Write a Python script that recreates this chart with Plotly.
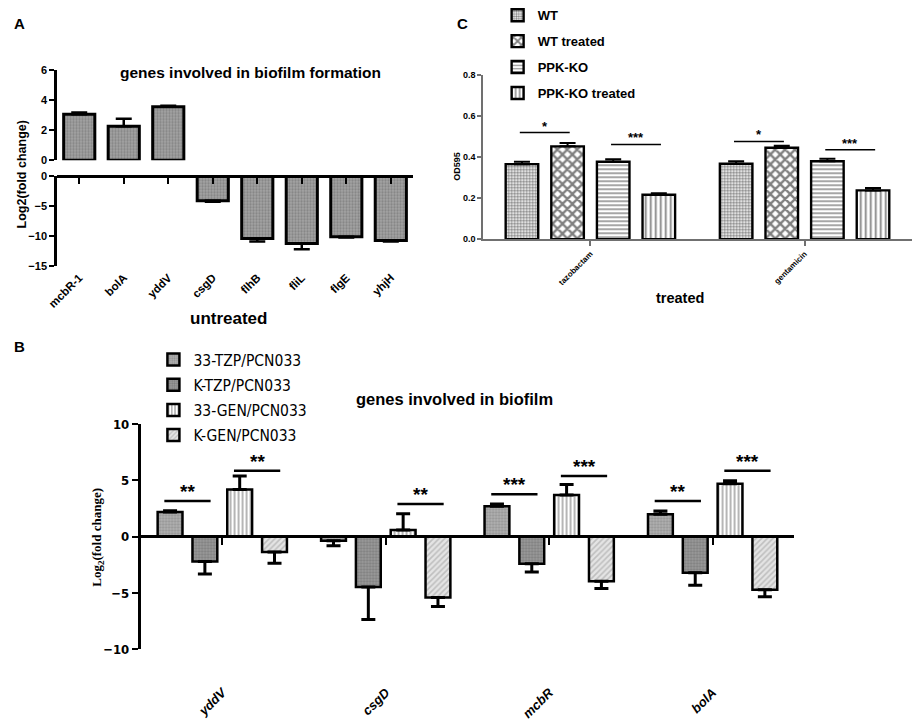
import plotly.graph_objects as go

W, H = 918, 721

FONT = "Liberation Sans, Arial, sans-serif"
NARROW = "Liberation Sans Narrow, DejaVu Sans Condensed, Arial Narrow, sans-serif"
SERIF = "Liberation Serif, Times New Roman, serif"


def px_x(p):
    return p / W


def px_y(p):
    return 1 - p / H


# ---------------- panel A: untreated, broken axis
genes_a = ["mcbR-1", "bolA", "yddV", "csgD", "flhB", "fliL", "flgE", "yhjH"]
fc_a = [3.05, 2.25, 3.55, -4.15, -10.45, -11.3, -10.15, -10.8]
err_a = [0.12, 0.5, 0.07, 0.15, 0.5, 0.95, 0.12, 0.15]

# ---------------- panel B: treated strains
genes_b = ["yddV", "csgD", "mcbR", "bolA"]
names_b = ["33-TZP/PCN033", "K-TZP/PCN033", "33-GEN/PCN033", "K-GEN/PCN033"]
tzp33_b = [2.2, -0.35, 2.7, 2.0]
tzp33_err = [0.1, 0.45, 0.2, 0.28]
ktzp_b = [-2.2, -4.45, -2.4, -3.2]
ktzp_err = [1.1, 2.9, 0.72, 1.1]
gen33_b = [4.2, 0.6, 3.7, 4.7]
gen33_err = [1.2, 1.45, 0.95, 0.28]
kgen_b = [-1.35, -5.4, -3.95, -4.7]
kgen_err = [1.0, 0.78, 0.65, 0.62]

sig_b_gene = [0, 0, 1, 2, 2, 3, 3]
sig_b_first = [0, 2, 2, 0, 2, 0, 2]
sig_b_y = [3.17, 5.85, 2.91, 3.77, 5.39, 3.17, 5.85]
sig_b_txt = ["**", "**", "**", "***", "***", "**", "***"]

# ---------------- panel C: OD595
groups_c = ["tazobactam", "gentamicin"]
names_c = ["WT", "WT treated", "PPK-KO", "PPK-KO treated"]
wt_c = [0.366, 0.368]
wt_err = [0.012, 0.012]
wtt_c = [0.453, 0.446]
wtt_err = [0.016, 0.01]
ppk_c = [0.378, 0.38]
ppk_err = [0.012, 0.012]
ppkt_c = [0.217, 0.238]
ppkt_err = [0.007, 0.012]

sig_c_group = [0, 0, 1, 1]
sig_c_first = [0, 2, 0, 2]
sig_c_y = [0.52, 0.462, 0.477, 0.436]
sig_c_txt = ["*", "***", "*", "***"]

STEP = 0.213     # distance between bars inside a group
BW = 0.152       # bar width in group units


def one_sided(vals, errs):
    up = [e if v >= 0 else 0 for v, e in zip(vals, errs)]
    dn = [e if v < 0 else 0 for v, e in zip(vals, errs)]
    return dict(type="data", symmetric=False, array=up, arrayminus=dn,
                color="black")


fig = go.Figure()

# --- A upper (positive) and lower (negative)
pos_idx = [i for i, v in enumerate(fc_a) if v > 0]
neg_idx = [i for i, v in enumerate(fc_a) if v <= 0]
pat_a = dict(shape=".", bgcolor="#a4a4a4", fgcolor="#666666", size=3, solidity=0.45)
for idx, xa, ya in [(pos_idx, "x", "y"), (neg_idx, "x2", "y2")]:
    vals = [fc_a[i] for i in idx]
    errs = [err_a[i] for i in idx]
    e = one_sided(vals, errs)
    e.update(thickness=2.5, width=8)
    fig.add_trace(go.Bar(
        x=idx, y=vals, width=0.7, xaxis=xa, yaxis=ya, showlegend=False,
        marker=dict(color="#a4a4a4", pattern=pat_a,
                    line=dict(color="black", width=3)),
        error_y=e))

# --- B
pats_b = [
    dict(shape=".", bgcolor="#b4b4b4", fgcolor="#6e6e6e", size=3, solidity=0.45),
    dict(shape=".", bgcolor="#9c9c9c", fgcolor="#5e5e5e", size=3, solidity=0.45),
    dict(shape="|", bgcolor="white", fgcolor="#5a5a5a", size=4, solidity=0.45),
    dict(shape="/", bgcolor="#e4e4e4", fgcolor="#9a9a9a", size=4, solidity=0.4),
]
vals_b = [tzp33_b, ktzp_b, gen33_b, kgen_b]
errs_b = [tzp33_err, ktzp_err, gen33_err, kgen_err]
for k in range(4):
    e = one_sided(vals_b[k], errs_b[k])
    e.update(thickness=3, width=7)
    fig.add_trace(go.Bar(
        x=list(range(len(genes_b))), y=vals_b[k], name=names_b[k],
        width=BW, offset=(k - 1.5) * STEP - BW / 2,
        xaxis="x3", yaxis="y3", legend="legend", legendgroup=names_b[k],
        marker=dict(color=pats_b[k]["bgcolor"], pattern=pats_b[k],
                    line=dict(color="black", width=2.5)),
        error_y=e))

# --- C
pats_c = [
    dict(shape=".", bgcolor="white", fgcolor="black", size=3, solidity=0.5),
    dict(shape="x", bgcolor="white", fgcolor="black", size=7, solidity=0.55),
    dict(shape="-", bgcolor="white", fgcolor="black", size=4, solidity=0.35),
    dict(shape="|", bgcolor="white", fgcolor="black", size=5, solidity=0.35),
]
vals_c = [wt_c, wtt_c, ppk_c, ppkt_c]
errs_c = [wt_err, wtt_err, ppk_err, ppkt_err]
for k in range(4):
    e = one_sided(vals_c[k], errs_c[k])
    e.update(thickness=2, width=8)
    fig.add_trace(go.Bar(
        x=list(range(len(groups_c))), y=vals_c[k], name=names_c[k],
        width=BW, offset=(k - 1.5) * STEP - BW / 2,
        xaxis="x4", yaxis="y4", legend="legend2", legendgroup=names_c[k],
        marker=dict(color="white", pattern=pats_c[k],
                    line=dict(color="black", width=2.4)),
        error_y=e))

# significance bars
for g, f, yv, t in zip(sig_b_gene, sig_b_first, sig_b_y, sig_b_txt):
    x0 = g + (f - 1.5) * STEP - 0.035
    x1 = g + (f - 0.5) * STEP + 0.035
    fig.add_shape(type="line", xref="x3", yref="y3", x0=x0, x1=x1, y0=yv, y1=yv,
                  line=dict(color="black", width=2.5))
    fig.add_annotation(xref="x3", yref="y3", x=(x0 + x1) / 2, y=yv, text="<b>%s</b>" % t,
                       showarrow=False, yanchor="bottom", yshift=-3,
                       font=dict(family=FONT, size=19, color="black"))

for g, f, yv, t in zip(sig_c_group, sig_c_first, sig_c_y, sig_c_txt):
    x0 = g + (f - 1.5) * STEP - 0.01
    x1 = g + (f - 0.5) * STEP + 0.01
    fig.add_shape(type="line", xref="x4", yref="y4", x0=x0, x1=x1, y0=yv, y1=yv,
                  line=dict(color="black", width=1.5))
    fig.add_annotation(xref="x4", yref="y4", x=(x0 + x1) / 2, y=yv, text="<b>%s</b>" % t,
                       showarrow=False, yanchor="bottom", yshift=-3,
                       font=dict(family=FONT, size=13, color="black"))

axis_common = dict(showgrid=False, zeroline=False, showline=True, linecolor="black",
                   ticks="outside", tickcolor="black")
axis_grey = dict(axis_common, linecolor="#707070", tickcolor="#707070")

fig.update_layout(
    width=W, height=H, margin=dict(l=0, r=0, t=0, b=0),
    paper_bgcolor="white", plot_bgcolor="rgba(0,0,0,0)",
    barmode="overlay",
    font=dict(family=FONT, color="black"),
    # A upper
    xaxis=dict(domain=[px_x(47.5), px_x(407.5)], range=[-0.5, 7.5], anchor="y",
               visible=False),
    yaxis=dict(axis_common, domain=[px_y(153.3), px_y(60.3)], range=[0, 6],
               anchor="x", tickvals=[0, 2, 4, 6], linewidth=2.5, tickwidth=2,
               ticklen=5, tickfont=dict(size=11, weight="bold")),
    # A lower
    xaxis2=dict(axis_common, domain=[px_x(47.5), px_x(407.5)], range=[-0.5, 7.5],
                anchor="free", position=px_y(169.3), linewidth=2.5, tickwidth=2,
                ticklen=6, tickvals=list(range(len(genes_a))), ticktext=genes_a,
                tickangle=-45, ticklabelstandoff=83,
                tickfont=dict(size=11.5, weight="bold")),
    yaxis2=dict(axis_common, domain=[px_y(261.7), px_y(169.3)], range=[-15, 0],
                anchor="x2", tickvals=[-15, -10, -5, 0], linewidth=2.5, tickwidth=2,
                ticklen=5, tickfont=dict(size=11, weight="bold")),
    # B
    xaxis3=dict(axis_common, domain=[px_x(132), px_x(793)], range=[-0.5, 3.5],
                anchor="free", position=px_y(539.3), linewidth=2.5, tickwidth=2,
                ticklen=7, tickvals=list(range(len(genes_b))), ticktext=genes_b,
                tickangle=-45, ticklabelstandoff=135,
                tickfont=dict(size=13, weight="bold", style="italic")),
    yaxis3=dict(axis_common, domain=[px_y(655.7), px_y(424.3)], range=[-10, 10],
                anchor="x3", tickvals=[-10, -5, 0, 5, 10], linewidth=2.5, tickwidth=2,
                ticklen=6, tickfont=dict(family=NARROW, size=13, weight="bold")),
    # C
    xaxis4=dict(axis_grey, domain=[px_x(478.5), px_x(911.6)], range=[-0.5, 1.5],
                anchor="y4", linewidth=2, tickwidth=1.5, ticklen=5,
                tickvals=list(range(len(groups_c))), ticktext=groups_c,
                tickangle=-45, tickfont=dict(size=8, weight="bold")),
    yaxis4=dict(axis_grey, domain=[px_y(234.3), px_y(66)], range=[0, 0.8],
                anchor="x4", dtick=0.2, tickformat=".1f", linewidth=2, tickwidth=1.5,
                ticklen=4, tickfont=dict(size=9, weight="bold")),
    legend=dict(x=px_x(145), y=px_y(341), xanchor="left", yanchor="top",
                bgcolor="rgba(0,0,0,0)", tracegroupgap=2,
                font=dict(family=NARROW, size=15.5, color="black")),
    legend2=dict(x=px_x(493), y=px_y(-11), xanchor="left", yanchor="top",
                 bgcolor="rgba(0,0,0,0)", tracegroupgap=6,
                 font=dict(family=FONT, size=13, weight="bold", color="black")),
)

texts = [
    ("<b>A</b>", 10, 13, 15, FONT, 0),
    ("<b>B</b>", 10, 345, 15, FONT, 0),
    ("<b>C</b>", 457, 13, 15, FONT, 0),
    ("<b>genes involved in biofilm formation</b>", 243, 63, 15.5, FONT, 0),
    ("<b>untreated</b>", 221, 316, 17, FONT, 0),
    ("<b>Log2(fold change)</b>", 12, 168, 12.5, FONT, -90),
    ("<b>genes involved in biofilm</b>", 449, 398, 16.5, FONT, 0),
    ("<b>Log<sub>2</sub>(fold change)</b>", 89, 541, 13, SERIF, -90),
    ("<b>OD595</b>", 452, 160, 9, FONT, -90),
    ("<b>treated</b>", 677, 295, 14.5, FONT, 0),
]
for t, x, y, s, fam, ang in texts:
    fig.add_annotation(xref="paper", yref="paper", x=px_x(x), y=px_y(y), text=t,
                       showarrow=False, textangle=ang, xanchor="center", yanchor="middle",
                       font=dict(family=fam, size=s, color="black"))

# page body has a default 8px margin; drop it so the figure sits at the corner
fig.write_html("out.html", config={"displayModeBar": False},
               post_script="document.body.style.margin='0';")
